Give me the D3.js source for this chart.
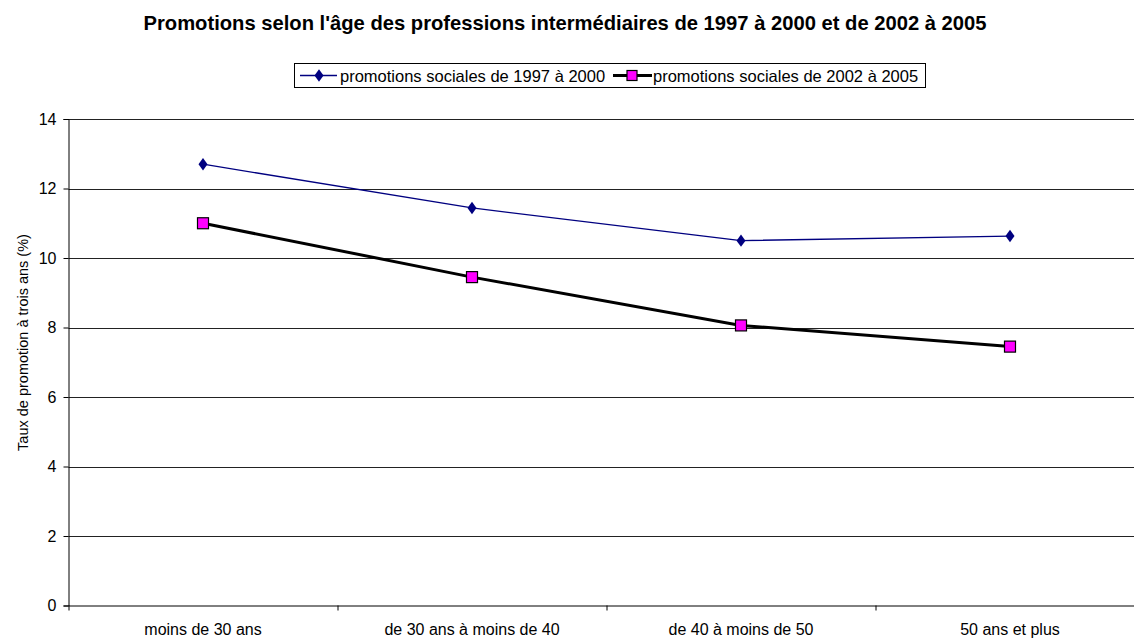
<!DOCTYPE html>
<html>
<head>
<meta charset="utf-8">
<script src="https://cdn.jsdelivr.net/npm/d3@7"></script>
<style>
  body { margin: 0; background: #fff; }
  text { font-family: "Liberation Sans", Arial, sans-serif; }
</style>
</head>
<body>
<svg id="chart"></svg>
<script>
const categories = ["moins de 30 ans", "de 30 ans à moins de 40", "de 40 à moins de 50", "50 ans et plus"];
const serie1997 = [12.7, 11.44, 10.5, 10.63];
const serie2002 = [11.0, 9.45, 8.06, 7.45];
const seriesNames = ["promotions sociales de 1997 à 2000", "promotions sociales de 2002 à 2005"];
const yTicks = [0, 2, 4, 6, 8, 10, 12, 14];

const margin = { top: 119, right: 0, bottom: 33, left: 68.5 },
    width = 1076,
    height = 639 - margin.top - margin.bottom - 0.5;

const svg = d3.select("#chart")
    .attr("width", 1134)
    .attr("height", 639);

const g = svg.append("g")
    .attr("transform", `translate(${margin.left},${margin.top})`);

const x = d3.scaleBand().domain(categories).range([0, width]);
const y = d3.scaleLinear().domain([0, 14]).range([height, 0]);

// gridlines
g.append("g")
    .selectAll("line")
    .data(yTicks.filter(d => d > 0))
    .join("line")
    .attr("x1", 0)
    .attr("x2", width)
    .attr("y1", d => Math.round(y(d)) + 0.5)
    .attr("y2", d => Math.round(y(d)) + 0.5)
    .attr("stroke", "#222")
    .attr("stroke-width", 1);

// y axis
const yAxis = g.append("g")
    .call(d3.axisLeft(y).tickValues(yTicks).tickSize(5).tickPadding(7));
yAxis.select(".domain").attr("stroke", "#000");
yAxis.selectAll("text").attr("font-size", 16).attr("fill", "#000");

// x axis
const xAxis = g.append("g")
    .attr("transform", `translate(0,${height})`)
    .call(d3.axisBottom(x).tickSize(0));
xAxis.select(".domain").attr("stroke", "#000");
xAxis.selectAll("text")
    .attr("font-size", 16)
    .attr("fill", "#000")
    .attr("dy", null)
    .attr("y", 29.5);
xAxis.append("g")
    .selectAll("line")
    .data(categories)
    .join("line")
    .attr("x1", d => Math.round(x(d)) + 0.5)
    .attr("x2", d => Math.round(x(d)) + 0.5)
    .attr("y1", 0)
    .attr("y2", 5)
    .attr("stroke", "#000");

// y label
svg.append("text")
    .attr("transform", "translate(28,342.5) rotate(-90)")
    .attr("text-anchor", "middle")
    .attr("font-size", 14.5)
    .text("Taux de promotion à trois ans (%)");

const cx = d => x(d) + x.bandwidth() / 2;

// series lines
const line = d3.line().x(d => cx(d[0])).y(d => y(d[1]));
g.append("path")
    .datum(categories.map((c, i) => [c, serie1997[i]]))
    .attr("fill", "none")
    .attr("stroke", "#000080")
    .attr("stroke-width", 1.3)
    .attr("d", line);

g.append("path")
    .datum(categories.map((c, i) => [c, serie2002[i]]))
    .attr("fill", "none")
    .attr("stroke", "#000")
    .attr("stroke-width", 3)
    .attr("d", line);

const diamond = d3.symbol().type(d3.symbolDiamond).size(45);

g.append("g")
    .selectAll("path")
    .data(categories.map((c, i) => [c, serie1997[i]]))
    .join("path")
    .attr("transform", d => `translate(${cx(d[0])},${y(d[1])}) scale(1.25,1)`)
    .attr("d", diamond)
    .attr("fill", "#000080");

g.append("g")
    .selectAll("rect")
    .data(categories.map((c, i) => [c, serie2002[i]]))
    .join("rect")
    .attr("x", d => cx(d[0]) - 5.5)
    .attr("y", d => y(d[1]) - 5.5)
    .attr("width", 11)
    .attr("height", 11)
    .attr("fill", "#ff00ff")
    .attr("stroke", "#000")
    .attr("stroke-width", 1.2);

// title
svg.append("text")
    .attr("x", 565)
    .attr("y", 29.5)
    .attr("text-anchor", "middle")
    .attr("font-size", 20.2)
    .attr("font-weight", "bold")
    .text("Promotions selon l'âge des professions intermédiaires de 1997 à 2000 et de 2002 à 2005");

// legend
const legend = svg.append("g");
legend.append("rect")
    .attr("x", 294.5)
    .attr("y", 63.5)
    .attr("width", 631)
    .attr("height", 24)
    .attr("fill", "#fff")
    .attr("stroke", "#000")
    .attr("stroke-width", 1);

legend.append("line")
    .attr("x1", 300).attr("x2", 337).attr("y1", 75.5).attr("y2", 75.5)
    .attr("stroke", "#000080").attr("stroke-width", 1.3);
legend.append("path")
    .attr("transform", "translate(319,75.5) scale(1.25,1)")
    .attr("d", diamond)
    .attr("fill", "#000080");
legend.append("text")
    .attr("x", 340).attr("y", 81.5)
    .attr("font-size", 16.5)
    .text(seriesNames[0]);

legend.append("line")
    .attr("x1", 613).attr("x2", 652).attr("y1", 75.5).attr("y2", 75.5)
    .attr("stroke", "#000").attr("stroke-width", 3);
legend.append("rect")
    .attr("x", 627).attr("y", 70.5).attr("width", 10).attr("height", 10)
    .attr("fill", "#ff00ff").attr("stroke", "#000").attr("stroke-width", 1.2);
legend.append("text")
    .attr("x", 653).attr("y", 81.5)
    .attr("font-size", 16.5)
    .text(seriesNames[1]);
</script>
</body>
</html>
